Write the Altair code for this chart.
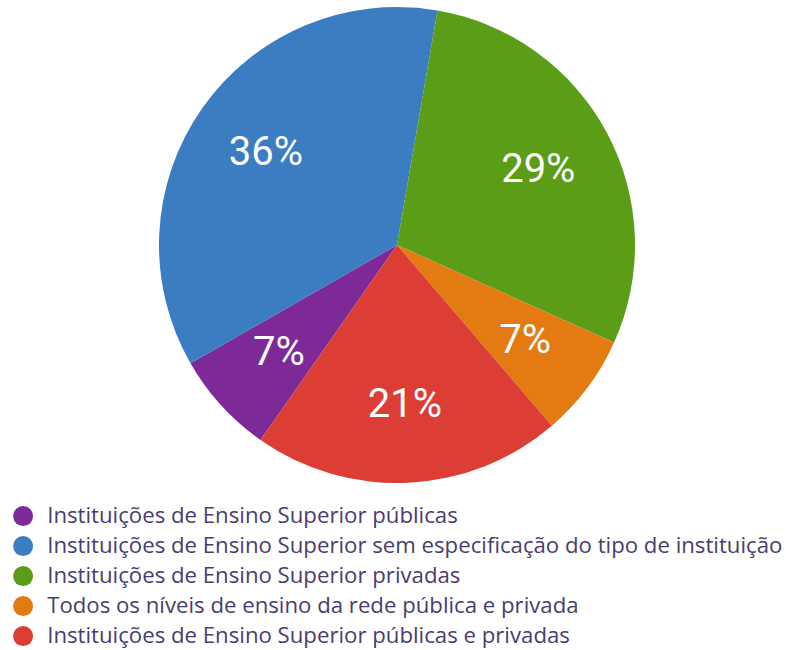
import altair as alt
import pandas as pd

categories = [
    "Instituições de Ensino Superior públicas",
    "Instituições de Ensino Superior sem especificação do tipo de instituição",
    "Instituições de Ensino Superior privadas",
    "Todos os níveis de ensino da rede pública e privada",
    "Instituições de Ensino Superior públicas e privadas",
]
values = [7, 36, 29, 7, 21]
colors = ["#7D2A98", "#3B7DC0", "#5B9D17", "#E47A12", "#DC3D35"]

df = pd.DataFrame({
    "categoria": categories,
    "valor": values,
    "ordem": list(range(len(categories))),
    "rotulo": [f"{v}%" for v in values],
})

start = 215 * 3.141592653589793 / 180
theta_scale = alt.Scale(range=[start, start + 2 * 3.141592653589793])

base = alt.Chart(df).encode(
    theta=alt.Theta("valor:Q", stack=True, scale=theta_scale),
    order=alt.Order("ordem:Q"),
    x=alt.value(397),
    y=alt.value(245),
)

pie = base.mark_arc(outerRadius=238).encode(
    color=alt.Color(
        "categoria:N",
        scale=alt.Scale(domain=categories, range=colors),
        sort=categories,
        legend=alt.Legend(
            title=None,
            orient="none",
            legendX=12,
            legendY=505,
            symbolType="circle",
            symbolSize=400,
            symbolStrokeWidth=0,
            labelFontSize=22.2,
            labelFont="Open Sans",
            labelColor="#4A3D6E",
            labelLimit=800,
            labelOffset=13,
            rowPadding=7,
        ),
    )
)

text = base.mark_text(
    radius=160, fontSize=40, font="Roboto", color="white", fontWeight=400
).encode(text="rotulo:N")

chart = (
    alt.layer(pie, text)
    .properties(width=786, height=650, padding=0, autosize=alt.AutoSizeParams(type="none"))
    .configure_view(stroke=None)
)

chart.save("out.html", embed_options={"renderer": "svg", "actions": False})
